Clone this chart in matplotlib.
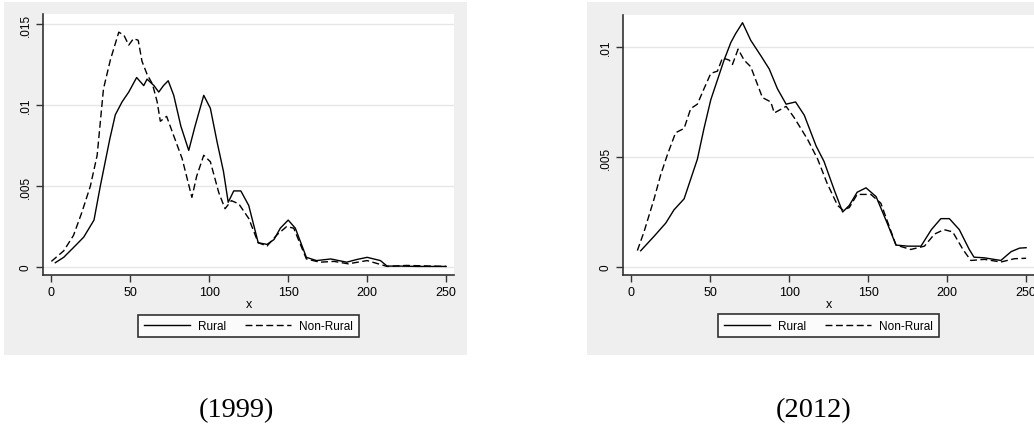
import numpy as np
import matplotlib.pyplot as plt
from matplotlib.patches import Rectangle

# kernel density curves
x99_rural = [2.5, 7.8, 16, 20.5, 27, 31, 37, 40.5, 44.8, 49, 54, 58.5, 60.6, 65, 68, 71, 74,
             77.5, 82, 87, 91, 96.5, 100.7, 105, 109, 112, 115.5, 120, 125, 131, 136.6, 141,
             145, 150, 154.5, 161.5, 168, 177, 187, 193.6, 200, 208.4, 212.6, 221, 231.6, 250]
y99_rural = [.00027, .0006, .0014, .00185, .0029, .005, .0079, .0094, .0102, .0108, .0117,
             .0112, .0116, .0112, .0108, .0112, .0115, .0106, .0087, .0072, .0087, .0106,
             .0098, .0077, .0059, .004, .0047, .0047, .0038, .0015, .0014, .0017, .0024,
             .0029, .0024, .0006, .0004, .0005, .0003, .00047, .0006, .0004, .00006, .00006,
             .00004, .00004]

x99_nonrural = [0, 7.8, 14, 19.4, 24.7, 29, 33, 37.4, 42.7, 46, 49, 52, 55, 57.4, 60.6, 64,
                67, 69, 73, 77.5, 82.8, 89, 92, 96.5, 100.7, 106, 110, 114, 118.7, 125, 131,
                136.6, 143, 149, 153.5, 161.5, 170, 179, 188, 200, 212.6, 225, 250]
y99_nonrural = [.00035, .001, .00195, .0034, .005, .0069, .011, .0128, .0145, .0143, .0137,
                .0141, .014, .0127, .0119, .0113, .0102, .009, .0093, .0081, .0067, .0043,
                .0056, .0069, .0065, .0046, .0036, .0041, .0039, .003, .0015, .0013, .002,
                .0025, .0024, .0005, .0003, .00035, .0002, .0004, .00004, .0001, .00004]

x12_rural = [5.9, 14.4, 21.8, 27, 33.4, 37.6, 41.8, 46, 50.3, 54.5, 58.7, 63, 66, 70.4, 75.6,
             82, 87.3, 92.5, 98, 104, 109.5, 117, 122, 128.5, 133.8, 138, 143, 148.6, 155,
             162, 167.6, 175, 183.4, 190, 196, 201.4, 207.7, 214, 217, 223.6, 234, 240.5,
             245.8, 250]
y12_rural = [.00074, .0014, .002, .0026, .0031, .004, .0049, .0063, .0076, .0085, .0094,
             .0102, .0106, .0111, .0103, .0096, .009, .0081, .0074, .0075, .0069, .0055,
             .0048, .0035, .0025, .0028, .0034, .0036, .0032, .002, .001, .00095, .00095,
             .0017, .0022, .0022, .0017, .0008, .00045, .00042, .0003, .0007, .00086, .00088]

x12_nonrural = [3.8, 8, 14.4, 18.6, 22.8, 28, 33.4, 37.6, 41.8, 46, 50.3, 54.5, 57.7, 62, 64,
                67.6, 71.4, 75.6, 83, 88.3, 90.5, 98, 103, 111.6, 118, 124, 130.6, 133.8,
                138, 143, 151.7, 158, 167.6, 177, 185.6, 192, 198, 203.5, 210, 215, 223.6,
                234, 242.6, 250]
y12_nonrural = [.00075, .0016, .0031, .0042, .0051, .0061, .0063, .0072, .0074, .0081, .0088,
                .0089, .0095, .0094, .0092, .0099, .0094, .0091, .0077, .0075, .007, .0073,
                .0068, .0058, .0049, .0038, .0028, .0026, .0027, .0033, .0033, .0029, .001,
                .0008, .00095, .0015, .0017, .0016, .0008, .0003, .00035, .00023, .00038,
                .0004]

xticks = [0, 50, 100, 150, 200, 250]
yticks99 = [0, .005, .01, .015]
yticks12 = [0, .005, .01]
ytick_labels99 = ['0', '.005', '.01', '.015']
ytick_labels12 = ['0', '.005', '.01']
captions = ['(1999)', '(2012)']

plt.rcParams['font.family'] = ['Liberation Sans', 'DejaVu Sans']

W, H = 1034, 427
fig = plt.figure(figsize=(W / 100, H / 100), dpi=100)
fig.patch.set_facecolor('white')

BG = '#efefef'


def px_rect(x0, y0, x1, y1):
    # pixel box (top-down) -> figure fraction
    return [x0 / W, 1 - y1 / H, (x1 - x0) / W, (y1 - y0) / H]


for x0, x1 in [(4, 467), (587, 1040)]:
    r = px_rect(x0, 3, x1, 356)
    fig.patches.append(Rectangle((r[0], r[1]), r[2], r[3], transform=fig.transFigure,
                                 facecolor=BG, edgecolor='none', zorder=-5))


def panel(rect, xr, yr, xn, yn, yticks, ylabels, ylim, caption, cap_x):
    ax = fig.add_axes(px_rect(*rect))
    ax.set_zorder(2)
    ax.set_facecolor('white')
    ax.plot(xr, yr, color='black', lw=1.0, label='Rural')
    ax.plot(xn, yn, color='black', lw=1.0, dashes=(5, 2.5), label='Non-Rural')
    ax.set_xlim(-5.3, 255)
    ax.set_ylim(*ylim)
    ax.set_xticks(xticks)
    ax.set_yticks(yticks)
    ax.set_yticklabels(ylabels, rotation=90, va='center')
    ax.grid(axis='y', color='#e6e6e6', lw=1.0)
    ax.set_axisbelow(True)
    for s in ['top', 'right']:
        ax.spines[s].set_visible(False)
    for s in ['left', 'bottom']:
        ax.spines[s].set_color('#333333')
        ax.spines[s].set_linewidth(1.2)
    ax.tick_params(direction='out', length=5, width=1, color='#333333',
                   labelsize=9, pad=3)
    ax.tick_params(axis='y', labelsize=8.5)
    ax.set_xlabel('x', fontsize=9, labelpad=0)
    leg = ax.legend(loc='center', bbox_to_anchor=(0.5, -0.195), ncol=2, frameon=True,
                    fancybox=False, edgecolor='black', fontsize=8.5, handlelength=3.9,
                    columnspacing=1.6, borderpad=0.45, handletextpad=0.7,
                    borderaxespad=0)
    leg.get_frame().set_linewidth(1.2)
    fig.text(cap_x / W, 1 - 411 / H, caption, ha='center', va='center',
             family=['Liberation Serif', 'DejaVu Serif'], fontsize=20.5)
    return ax


panel((43, 15, 454, 276), x99_rural, y99_rural, x99_nonrural, y99_nonrural,
      yticks99, ytick_labels99, (-0.00049, 0.01562), captions[0], 236)
panel((623, 16, 1034, 276), x12_rural, y12_rural, x12_nonrural, y12_nonrural,
      yticks12, ytick_labels12, (-0.00036, 0.01145), captions[1], 814)

fig.savefig('out.png', dpi=100, facecolor='white')
